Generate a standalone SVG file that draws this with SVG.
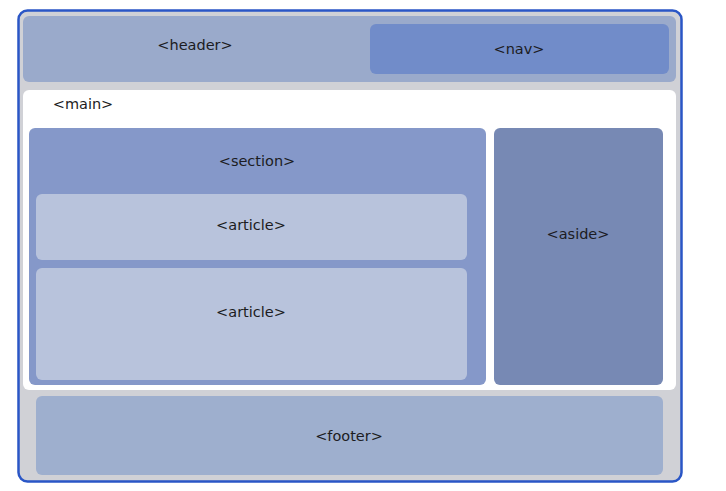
<svg xmlns="http://www.w3.org/2000/svg" width="726" height="491" viewBox="0 0 726 491">
<style>
text{font-family:"DejaVu Sans","Noto Sans",sans-serif;font-size:14.5px;fill:#1c1c22;text-anchor:middle;dominant-baseline:central}
</style>
<rect width="726" height="491" fill="#ffffff"/>
<g id="page"><rect x="18.5" y="10.5" width="663" height="471" rx="9" fill="#d0d1d6" stroke="#2a56c6" stroke-width="2.5"/></g>
<g id="header"><rect x="23" y="16" width="653" height="66" rx="6" fill="#9aaacb"/><text x="195" y="45">&lt;header&gt;</text></g>
<g id="nav"><rect x="370" y="24" width="299" height="50" rx="6" fill="#718cc9"/><text x="519" y="49">&lt;nav&gt;</text></g>
<g id="main"><rect x="23" y="90" width="653" height="300" rx="6" fill="#ffffff"/><text x="83" y="104">&lt;main&gt;</text></g>
<g id="section"><rect x="29" y="128" width="457" height="257" rx="6" fill="#8598c9"/><text x="257" y="161">&lt;section&gt;</text></g>
<g id="article1"><rect x="36" y="194" width="431" height="66" rx="6" fill="#b8c3dc"/><text x="251" y="225">&lt;article&gt;</text></g>
<g id="article2"><rect x="36" y="268" width="431" height="112" rx="6" fill="#b8c3dc"/><text x="251" y="312">&lt;article&gt;</text></g>
<g id="aside"><rect x="494" y="128" width="169" height="257" rx="6" fill="#7789b4"/><text x="578" y="234">&lt;aside&gt;</text></g>
<g id="footer"><rect x="36" y="396" width="627" height="79" rx="6" fill="#9eafce"/><text x="349" y="436">&lt;footer&gt;</text></g>
<g id="connectors"></g>
</svg>
